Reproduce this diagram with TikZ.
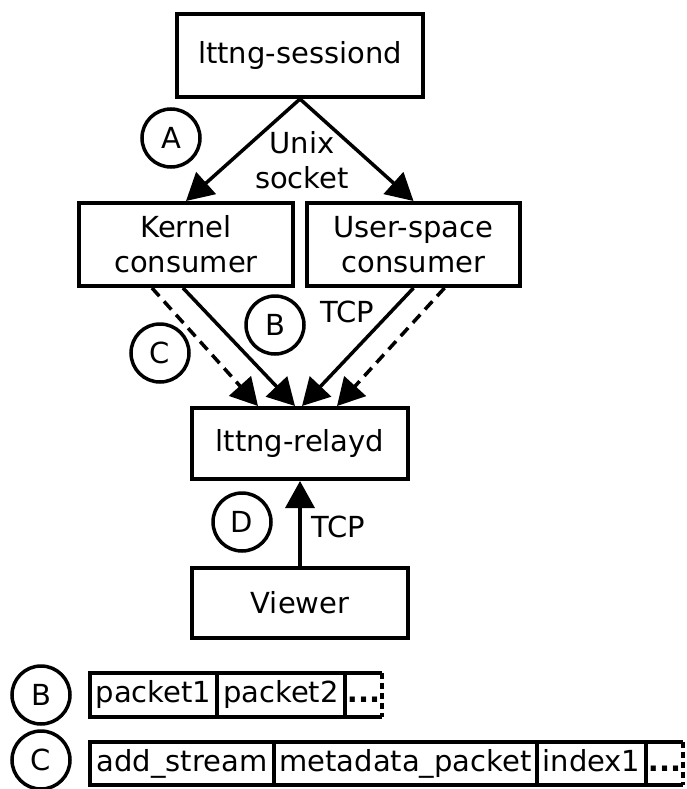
\documentclass[tikz,border=0pt]{standalone}
\usepackage{fontspec}
\setmainfont{DejaVu Sans}
\usetikzlibrary{arrows.meta}
\begin{document}
\begin{tikzpicture}[x=1pt,y=-1pt,
  font=\fontsize{29}{35}\selectfont,
  box/.style={draw=black, line width=4pt, inner sep=0pt, align=center},
  tag/.style={draw=black, circle, line width=3.5pt, inner sep=0pt, minimum size=58pt},
  cell/.style={draw=black, line width=4pt, inner sep=0pt, text height=21pt, text depth=6pt},
  flow/.style={line width=3.5pt, -{Triangle[length=27pt,width=29pt]}},
  flowd/.style={flow, dash pattern=on 11pt off 7pt}]
\useasboundingbox (0,0) rectangle (686,789);
\node[box, minimum width=246pt, minimum height=83pt] (sessiond) at (300,55.5) {lttng-sessiond};
\node[box, minimum width=214pt, minimum height=83pt] (kernel) at (186,244.5) {Kernel\\consumer};
\node[box, minimum width=213pt, minimum height=83pt] (ust) at (413.5,244.5) {User-space\\consumer};
\node[box, minimum width=216pt, minimum height=71pt] (relayd) at (300,443.5) {lttng-relayd};
\node[box, minimum width=216pt, minimum height=70pt] (viewer) at (300,603) {Viewer};
\draw[flow] (sessiond.south) -- (kernel.north);
\draw[flow] (sessiond.south) -- (ust.north);
\draw[flowd] ([xshift=-34pt]kernel.south) -- ([xshift=-42pt]relayd.north);
\draw[flow] ([xshift=-3pt]kernel.south) -- ([xshift=-5pt]relayd.north);
\draw[flow] (ust.south) -- ([xshift=2pt]relayd.north);
\draw[flowd] ([xshift=31pt]ust.south) -- ([xshift=37pt]relayd.north);
\draw[flow] (viewer.north) -- (relayd.south);
\node[align=center, inner sep=0pt] (unixlbl) at (302,160) {Unix\\socket};
\node[inner sep=0pt] (tcpB) at (347,312) {TCP};
\node[inner sep=0pt] (tcpD) at (338,527) {TCP};
\node[tag] (tagA) at (171,138) {A};
\node[tag] (tagB) at (275,325) {B};
\node[tag] (tagC) at (160,353) {C};
\node[tag] (tagD) at (242,522) {D};
\node[tag] (keyB) at (41,695) {B};
\node[tag] (keyC) at (41,760) {C};
\node[cell, minimum width=127pt, minimum height=44pt] (packet1) at (153.5,695) {packet1};
\node[cell, minimum width=128pt, minimum height=44pt] (packet2) at (281,695) {packet2};
\node[inner sep=0pt, text height=21pt, text depth=6pt, minimum width=37pt, minimum height=44pt] (moreB) at (363.5,695) {\textbf{{.}{.}{.}}};
\draw[line width=4pt] (moreB.north east) -- (moreB.north west) (moreB.south west) -- (moreB.south east);
\draw[line width=3.5pt, dash pattern=on 6pt off 4pt] (moreB.north east) -- (moreB.south east);
\node[cell, minimum width=184pt, minimum height=43pt] (addstream) at (182,763.5) {add\_stream};
\node[cell, minimum width=263pt, minimum height=43pt] (metadata) at (405.5,763.5) {metadata\_packet};
\node[cell, minimum width=109pt, minimum height=43pt] (index1) at (591.5,763.5) {index1};
\node[inner sep=0pt, text height=21pt, text depth=6pt, minimum width=37pt, minimum height=43pt] (moreC) at (664.5,763.5) {\textbf{{.}{.}{.}}};
\draw[line width=4pt] (moreC.north east) -- (moreC.north west) (moreC.south west) -- (moreC.south east);
\draw[line width=3.5pt, dash pattern=on 6pt off 4pt] (moreC.north east) -- (moreC.south east);
\end{tikzpicture}
\end{document}
